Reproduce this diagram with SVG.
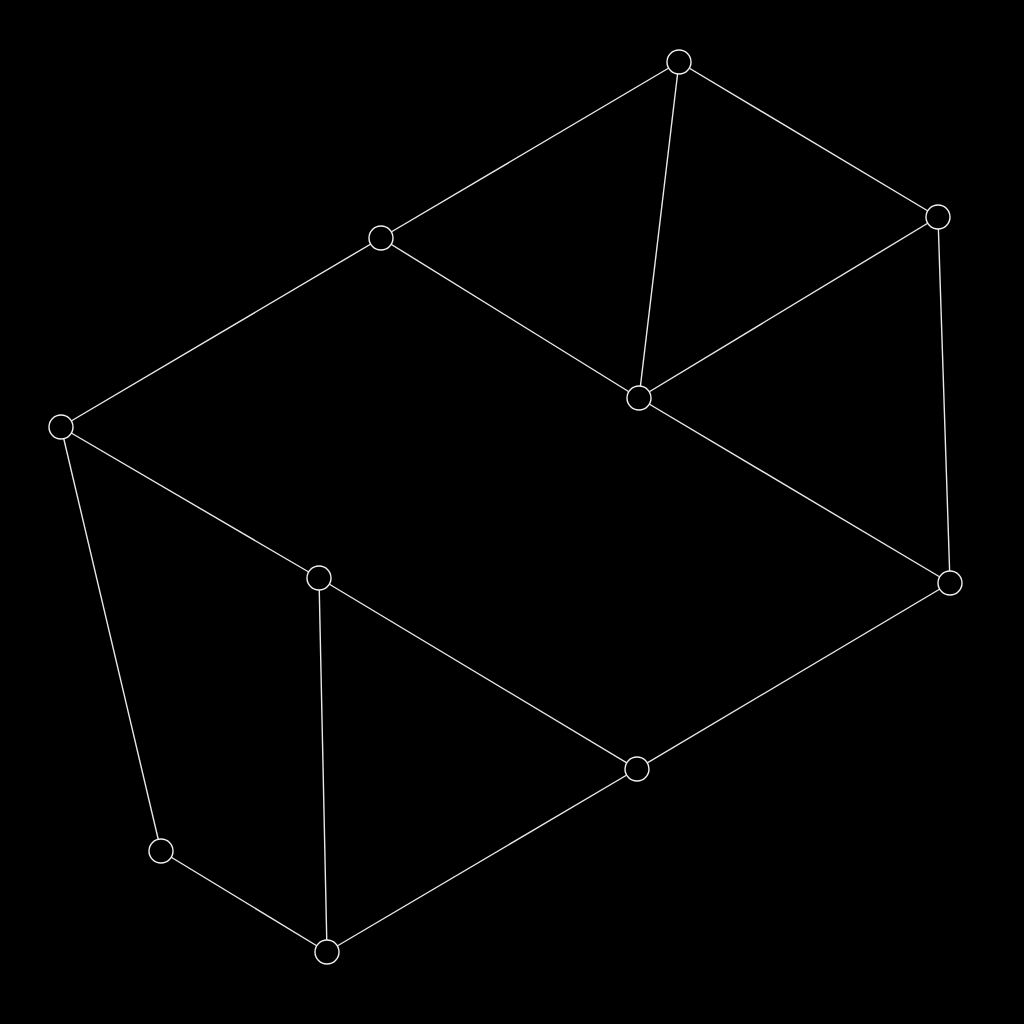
<svg xmlns="http://www.w3.org/2000/svg" width="1024" height="1024" viewBox="0 0 1024 1024">
<style>
.e{stroke:#e8e8e8;stroke-width:1.4;fill:none}
.n{stroke:#f0f0f0;stroke-width:1.4;fill:#000}
</style>
<rect width="1024" height="1024" fill="#000"/>
<g id="connectors">
<line class="e" x1="679" y1="62" x2="381" y2="238"/>
<line class="e" x1="679" y1="62" x2="938" y2="217"/>
<line class="e" x1="679" y1="62" x2="639" y2="398"/>
<line class="e" x1="938" y1="217" x2="639" y2="398"/>
<line class="e" x1="938" y1="217" x2="950" y2="583"/>
<line class="e" x1="381" y1="238" x2="639" y2="398"/>
<line class="e" x1="381" y1="238" x2="61" y2="427"/>
<line class="e" x1="639" y1="398" x2="950" y2="583"/>
<line class="e" x1="61" y1="427" x2="319" y2="578"/>
<line class="e" x1="61" y1="427" x2="161" y2="851"/>
<line class="e" x1="319" y1="578" x2="637" y2="769"/>
<line class="e" x1="319" y1="578" x2="327" y2="952"/>
<line class="e" x1="950" y1="583" x2="637" y2="769"/>
<line class="e" x1="637" y1="769" x2="327" y2="952"/>
<line class="e" x1="161" y1="851" x2="327" y2="952"/>
</g>
<g id="nA"><circle class="n" cx="679" cy="62" r="12"/></g>
<g id="nB"><circle class="n" cx="938" cy="217" r="12"/></g>
<g id="nC"><circle class="n" cx="381" cy="238" r="12"/></g>
<g id="nD"><circle class="n" cx="639" cy="398" r="12"/></g>
<g id="nE"><circle class="n" cx="61" cy="427" r="12"/></g>
<g id="nF"><circle class="n" cx="319" cy="578" r="12"/></g>
<g id="nG"><circle class="n" cx="950" cy="583" r="12"/></g>
<g id="nH"><circle class="n" cx="637" cy="769" r="12"/></g>
<g id="nI"><circle class="n" cx="161" cy="851" r="12"/></g>
<g id="nJ"><circle class="n" cx="327" cy="952" r="12"/></g>
</svg>
